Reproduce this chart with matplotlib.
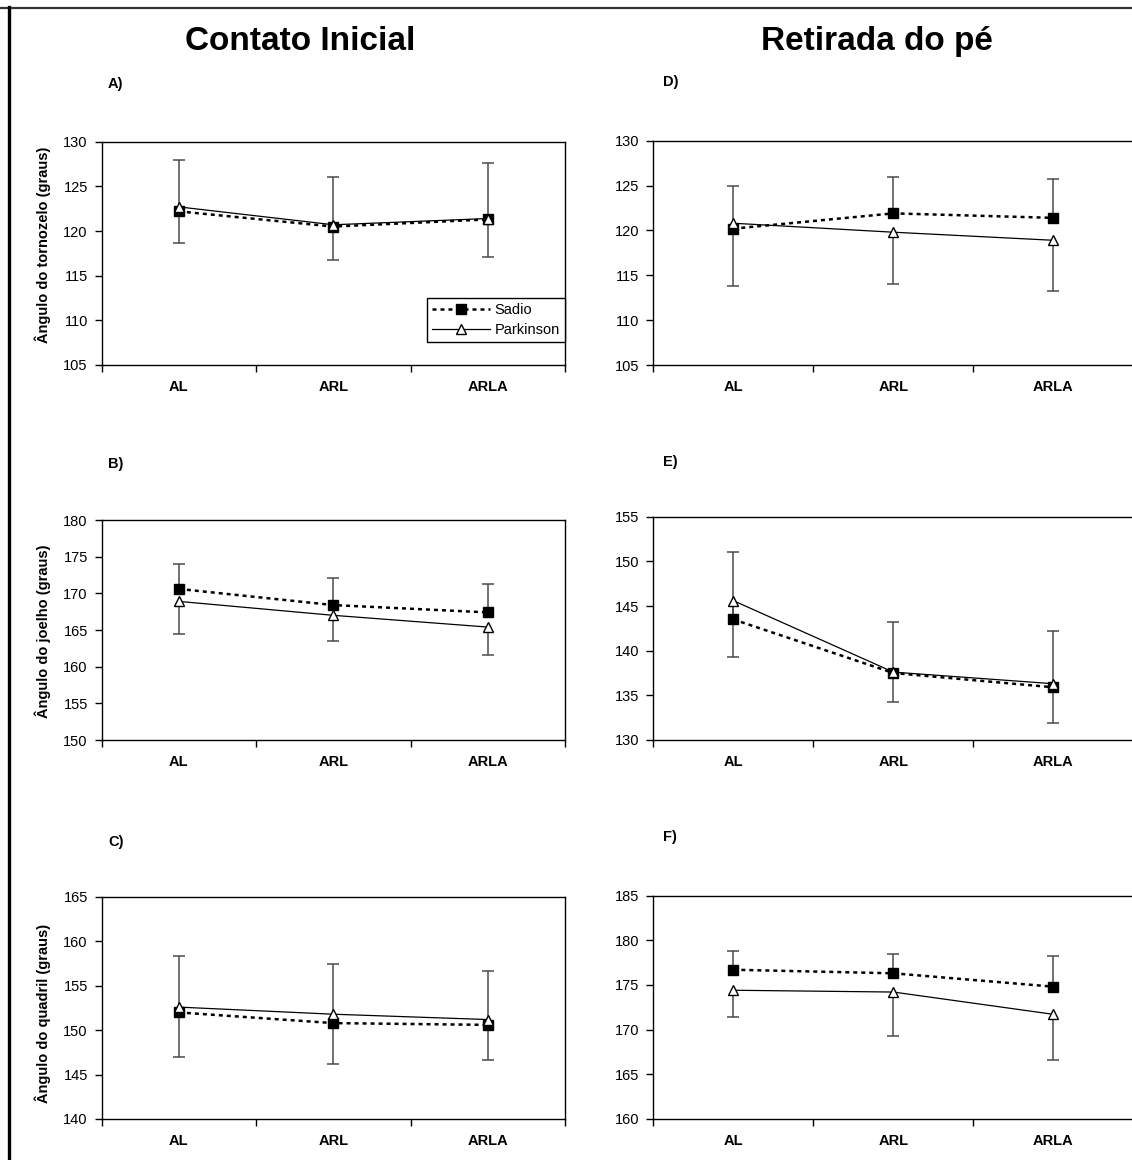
import numpy as np
import matplotlib
matplotlib.use('Agg')
import matplotlib.pyplot as plt
from matplotlib.lines import Line2D

plt.rcParams['font.family'] = ['Liberation Sans', 'DejaVu Sans']

# ---------------- data ----------------
categories = ['AL', 'ARL', 'ARLA']
series_names = ['Sadio', 'Parkinson']
column_titles = ['Contato Inicial', 'Retirada do pé']
ylabels = ['Ângulo do tornozelo (graus)', 'Ângulo do joelho (graus)', 'Ângulo do quadril (graus)']
panel_letters = ['A)', 'B)', 'C)', 'D)', 'E)', 'F)']

# A) Contato Inicial - tornozelo
sadio_A = [122.2, 120.5, 121.3]
sadio_A_err = [5.7, 5.5, 6.3]
park_A = [122.7, 120.7, 121.4]
park_A_err = [4.0, 3.9, 4.3]
ylim_A = (105, 130)

# B) Contato Inicial - joelho
sadio_B = [170.6, 168.4, 167.4]
sadio_B_err = [3.4, 3.7, 3.9]
park_B = [168.9, 167.0, 165.4]
park_B_err = [4.4, 3.55, 3.8]
ylim_B = (150, 180)

# C) Contato Inicial - quadril
sadio_C = [152.0, 150.8, 150.6]
sadio_C_err = [6.3, 6.7, 6.1]
park_C = [152.6, 151.8, 151.2]
park_C_err = [5.6, 5.6, 4.5]
ylim_C = (140, 165)

# D) Retirada do pé - tornozelo
sadio_D = [120.2, 121.9, 121.4]
sadio_D_err = [4.7, 4.0, 4.35]
park_D = [120.8, 119.8, 118.9]
park_D_err = [7.0, 5.75, 5.65]
ylim_D = (105, 130)

# E) Retirada do pé - joelho
sadio_E = [143.5, 137.5, 135.9]
sadio_E_err = [7.5, 5.7, 6.3]
park_E = [145.6, 137.6, 136.3]
park_E_err = [6.35, 3.4, 4.4]
ylim_E = (130, 155)

# F) Retirada do pé - quadril
sadio_F = [176.7, 176.3, 174.8]
sadio_F_err = [2.1, 2.2, 3.4]
park_F = [174.4, 174.2, 171.7]
park_F_err = [3.0, 4.9, 5.1]
ylim_F = (160, 185)

# ---------------- layout ----------------
W, H = 1132, 1160
fig = plt.figure(figsize=(W / 100, H / 100), dpi=100)
fig.patch.set_facecolor('white')


def rect(left, top, right, bottom):
    return [left / W, 1 - bottom / H, (right - left) / W, (bottom - top) / H]


panels = [
    (sadio_A, sadio_A_err, park_A, park_A_err, ylim_A, rect(101.7, 141.7, 565, 365), True),
    (sadio_B, sadio_B_err, park_B, park_B_err, ylim_B, rect(101.7, 520, 565, 740), False),
    (sadio_C, sadio_C_err, park_C, park_C_err, ylim_C, rect(101.7, 897, 565, 1119), False),
    (sadio_D, sadio_D_err, park_D, park_D_err, ylim_D, rect(653.3, 140.7, 1133.5, 365), False),
    (sadio_E, sadio_E_err, park_E, park_E_err, ylim_E, rect(653.3, 516.7, 1133.5, 740), False),
    (sadio_F, sadio_F_err, park_F, park_F_err, ylim_F, rect(653.3, 895.7, 1133.5, 1118.7), False),
]

err_color = '#4a4a4a'
x = np.arange(len(categories))

for s, s_err, p, p_err, ylim, r, show_legend in panels:
    ax = fig.add_axes(r)
    s = np.array(s); s_err = np.array(s_err)
    p = np.array(p); p_err = np.array(p_err)

    # error bars (Sadio upward, Parkinson downward)
    ax.vlines(x, s, s + s_err, color=err_color, lw=1.1, zorder=2)
    ax.plot(x, s + s_err, ls='none', marker='_', ms=9, mew=1.1, color=err_color, zorder=2)
    ax.vlines(x, p - p_err, p, color=err_color, lw=1.1, zorder=2)
    ax.plot(x, p - p_err, ls='none', marker='_', ms=9, mew=1.1, color=err_color, zorder=2)

    ax.plot(x, s, ls=(0, (1.6, 1.6)), lw=1.8, color='black', marker='s', ms=6.5,
            mfc='black', mec='black', zorder=3, label=series_names[0])
    ax.plot(x, p, ls='-', lw=0.9, color='black', marker='^', ms=7.5,
            mfc='white', mec='black', mew=1.0, zorder=4, label=series_names[1])

    ax.set_xlim(-0.5, 2.5)
    ax.set_ylim(*ylim)
    ax.set_yticks(np.arange(ylim[0], ylim[1] + 0.1, 5))
    ax.set_xticks(x)
    ax.set_xticklabels(categories, fontweight='bold', fontsize=10.5)
    ax.set_xticks([-0.5, 0.5, 1.5, 2.5], minor=True)
    ax.tick_params(axis='x', which='major', length=0, pad=11)
    ax.tick_params(axis='x', which='minor', length=5, width=1, direction='out')
    ax.tick_params(axis='y', which='major', length=5, width=1, direction='out',
                   labelsize=10.5, pad=5)
    for sp in ax.spines.values():
        sp.set_linewidth(1.0)
        sp.set_color('black')

    if show_legend:
        leg = ax.legend(loc='lower right', bbox_to_anchor=(1.0, 0.103), borderaxespad=0,
                        fancybox=False, framealpha=1, edgecolor='black', fontsize=10.5,
                        handlelength=4.0, handletextpad=0.3, borderpad=0.35,
                        labelspacing=0.4, numpoints=1)
        leg.get_frame().set_linewidth(1.0)

# column titles
fig.text(300 / W, 1 - 50 / H, column_titles[0], ha='center', va='baseline',
         fontsize=24, fontweight='bold')
fig.text(877 / W, 1 - 50 / H, column_titles[1], ha='center', va='baseline',
         fontsize=24, fontweight='bold')

# panel letters
letter_pos = [(108, 84), (108, 464), (108, 842), (663, 82), (663, 462), (663, 837)]
for lab, (lx, ly) in zip(panel_letters, letter_pos):
    fig.text(lx / W, 1 - ly / H, lab, ha='left', va='center', fontsize=10.5, fontweight='bold')

# y labels
ylabel_pos = [(43, 245), (43, 631), (43, 1013)]
for lab, (lx, ly) in zip(ylabels, ylabel_pos):
    fig.text(lx / W, 1 - ly / H, lab, ha='center', va='center', rotation=90,
             fontsize=10.5, fontweight='bold')

# document frame lines
fig.add_artist(Line2D([0, 1], [1 - 8 / H, 1 - 8 / H], transform=fig.transFigure,
                      color='#333333', lw=1.6))
fig.add_artist(Line2D([9 / W, 9 / W], [1 - 7 / H, 0], transform=fig.transFigure,
                      color='black', lw=2.4))

fig.savefig('out.png', dpi=100)
